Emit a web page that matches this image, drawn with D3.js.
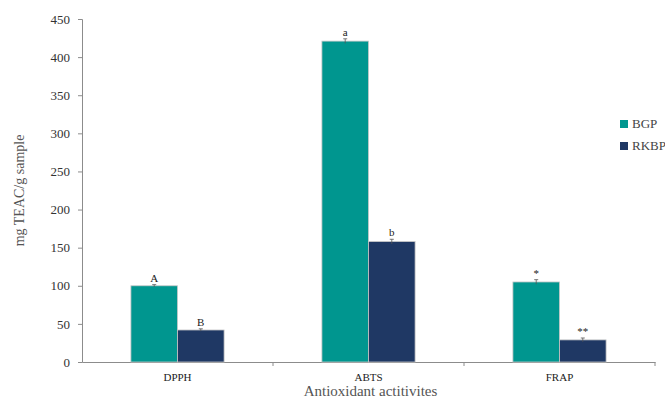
<!DOCTYPE html>
<html>
<head>
<script src="https://d3js.org/d3.v7.min.js"></script>
<style>
 body { margin: 0; background: #fff; }
 text { font-family: "Liberation Serif", "DejaVu Serif", serif; }
</style>
</head>
<body>
<script>
// data
var categories = ["DPPH", "ABTS", "FRAP"];
var series = ["BGP", "RKBP"];
var bgp = [100, 421, 105];
var rkbp = [42, 158, 29];
var bgpErr = [1.5, 3, 3];
var rkbpErr = [1.5, 3, 2.5];
var bgpMarks = ["A", "a", "*"];
var rkbpMarks = ["B", "b", "**"];
var yTicks = [0, 50, 100, 150, 200, 250, 300, 350, 400, 450];
var colors = ["#00968f", "#1f3864"];

var W = 665, H = 400;
var pL = 82, pR = 655, pT = 19, pB = 362;

var svg = d3.select("body").append("svg")
  .attr("width", W).attr("height", H);

var x = d3.scaleBand().domain(categories).range([pL, pR]);
var xs = d3.scaleBand().domain(series).range([0, x.bandwidth()]).paddingOuter(1.05).paddingInner(0);
var y = d3.scaleLinear().domain([0, 450]).range([pB, pT]);

// y axis
var ya = svg.append("g").attr("transform", "translate(" + pL + ",0)")
  .call(d3.axisLeft(y).tickValues(yTicks).tickSize(4).tickPadding(8));
ya.select(".domain").attr("stroke", "#8c8c8c");
ya.selectAll(".tick line").attr("stroke", "#8c8c8c");
ya.selectAll("text").style("font-size", "13px").attr("fill", "#333");

// x axis
var xa = svg.append("g").attr("transform", "translate(0," + pB + ")")
  .call(d3.axisBottom(x).tickSize(0).tickSizeOuter(0).tickPadding(11));
xa.select(".domain").attr("stroke", "#8c8c8c");
xa.selectAll("text").style("font-size", "11px").attr("fill", "#222");
// ticks at band boundaries
svg.append("g").selectAll("line")
  .data(categories)
  .join("line")
  .attr("x1", function(d) { return x(d) + x.step(); })
  .attr("x2", function(d) { return x(d) + x.step(); })
  .attr("y1", pB).attr("y2", pB + 4)
  .attr("stroke", "#8c8c8c");

var rows = categories.map(function(c, i) {
  return [
    { cat: c, s: "BGP", v: bgp[i], e: bgpErr[i], m: bgpMarks[i] },
    { cat: c, s: "RKBP", v: rkbp[i], e: rkbpErr[i], m: rkbpMarks[i] }
  ];
}).flat();

function cx(d) { return x(d.cat) + xs(d.s) + xs.bandwidth() / 2; }

var g = svg.append("g");
g.selectAll("rect").data(rows).join("rect")
  .attr("x", function(d) { return x(d.cat) + xs(d.s); })
  .attr("width", xs.bandwidth())
  .attr("y", function(d) { return y(d.v); })
  .attr("height", function(d) { return pB - y(d.v); })
  .attr("fill", function(d) { return colors[series.indexOf(d.s)]; })
  .attr("stroke", "#c8c8c8").attr("stroke-width", 0.8);

// error bars
var eb = g.selectAll(".err").data(rows).join("g").attr("class", "err")
  .attr("stroke", "#555").attr("stroke-width", 0.8);
eb.append("line")
  .attr("x1", cx).attr("x2", cx)
  .attr("y1", function(d) { return y(d.v + d.e); })
  .attr("y2", function(d) { return y(d.v - d.e); });
eb.append("line")
  .attr("x1", function(d) { return cx(d) - 2; })
  .attr("x2", function(d) { return cx(d) + 2; })
  .attr("y1", function(d) { return y(d.v + d.e); })
  .attr("y2", function(d) { return y(d.v + d.e); });

// letters
g.selectAll(".mark").data(rows).join("text").attr("class", "mark")
  .attr("x", cx)
  .attr("y", function(d) { return y(d.v + d.e) - 3; })
  .attr("text-anchor", "middle")
  .style("font-size", "11px").attr("fill", "#222")
  .text(function(d) { return d.m; });

// axis titles
svg.append("text")
  .attr("transform", "translate(24," + (pT + pB) / 2 + ") rotate(-90)")
  .attr("text-anchor", "middle")
  .style("font-size", "14px").attr("fill", "#555")
  .text("mg TEAC/g sample");
svg.append("text")
  .attr("x", (pL + pR) / 2 + 2).attr("y", 396)
  .attr("text-anchor", "middle")
  .style("font-size", "15px").attr("fill", "#555")
  .text("Antioxidant actitivites");

// legend
var lg = svg.append("g").selectAll("g").data(series).join("g")
  .attr("transform", function(d, i) { return "translate(620," + (120 + i * 22) + ")"; });
lg.append("rect").attr("width", 8).attr("height", 8)
  .attr("fill", function(d, i) { return colors[i]; });
lg.append("text").attr("x", 12).attr("y", 8)
  .style("font-size", "13px").attr("fill", "#444")
  .text(function(d) { return d; });
</script>
</body>
</html>
